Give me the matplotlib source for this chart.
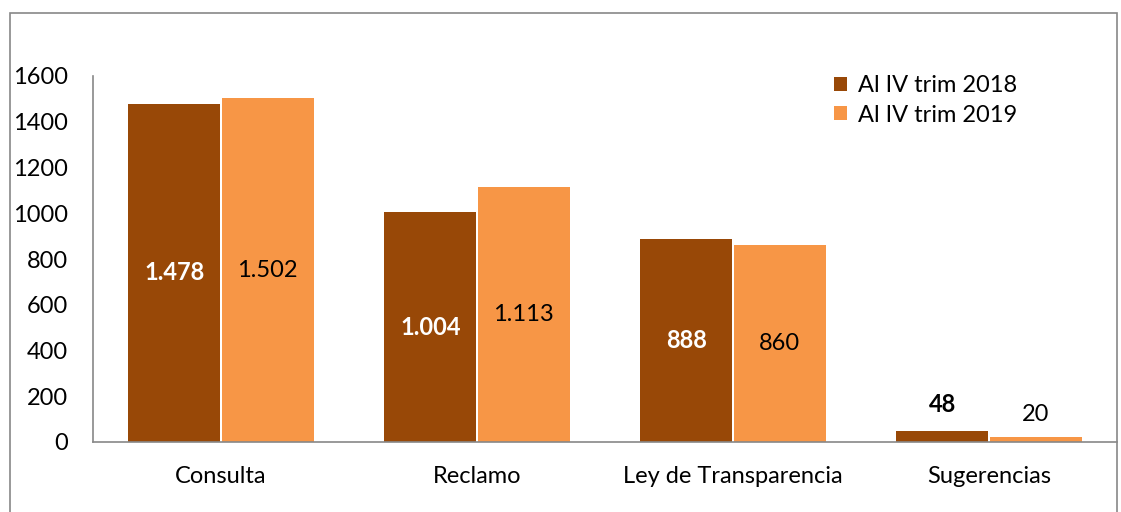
import numpy as np
import matplotlib.pyplot as plt
from matplotlib.patches import Rectangle

categories = ["Consulta", "Reclamo", "Ley de Transparencia", "Sugerencias"]
series_names = ["Al IV trim 2018", "Al IV trim 2019"]
values_2018 = [1478, 1004, 888, 48]
values_2019 = [1502, 1113, 860, 20]
labels_2018 = ["1.478", "1.004", "888", "48"]
labels_2019 = ["1.502", "1.113", "860", "20"]
yticks = [0, 200, 400, 600, 800, 1000, 1200, 1400, 1600]

dark = "#984807"
light = "#F79646"
fs = 17

plt.rcParams['font.family'] = ['Lato', 'DejaVu Sans']

W, H = 1121, 512
fig = plt.figure(figsize=(W / 100, H / 100), dpi=100)

# chart area border
fig.patches.append(Rectangle((10 / W, -0.1), 1107 / W, 1.1 - 13 / H,
                             transform=fig.transFigure, fill=False,
                             edgecolor="#888888", linewidth=1.2))

ax = fig.add_axes([93 / W, (H - 442) / H, 1024 / W, 366 / H])

x = np.arange(len(categories))
w = 0.36
ax.bar(x - w / 2 - 0.003, values_2018, w, color=dark, label=series_names[0])
ax.bar(x + w / 2 + 0.003, values_2019, w, color=light, label=series_names[1])

for i in range(len(categories)):
    if values_2018[i] > 200:
        ax.text(x[i] - w / 2, values_2018[i] / 2, labels_2018[i], ha="center",
                va="center", color="white", fontsize=fs, fontweight="bold")
        ax.text(x[i] + w / 2, values_2019[i] / 2, labels_2019[i], ha="center",
                va="center", color="black", fontsize=fs)
    else:
        ax.text(x[i] - w / 2, 165, labels_2018[i], ha="center",
                va="center", color="black", fontsize=fs, fontweight="bold")
        ax.text(x[i] + w / 2, 120, labels_2019[i], ha="center",
                va="center", color="black", fontsize=fs)

ax.set_xlim(-0.5, len(categories) - 0.5)
ax.set_ylim(0, 1600)
ax.set_yticks(yticks)
ax.set_xticks(x)
ax.set_xticklabels(categories, fontsize=fs)
ax.tick_params(axis="y", labelsize=fs, length=0, pad=18)
ax.tick_params(axis="x", length=0, pad=17)

for s in ["top", "right"]:
    ax.spines[s].set_visible(False)
ax.spines["left"].set_color("#888888")
ax.spines["bottom"].set_color("#888888")
ax.spines["left"].set_linewidth(1.2)
ax.spines["bottom"].set_linewidth(1.2)

leg = ax.legend(loc="upper left", bbox_to_anchor=(0.703, 1.06), frameon=False,
                fontsize=fs, handlelength=0.55, handleheight=0.55,
                handletextpad=0.45, labelspacing=0.35)

fig.savefig("out.png", dpi=100)
